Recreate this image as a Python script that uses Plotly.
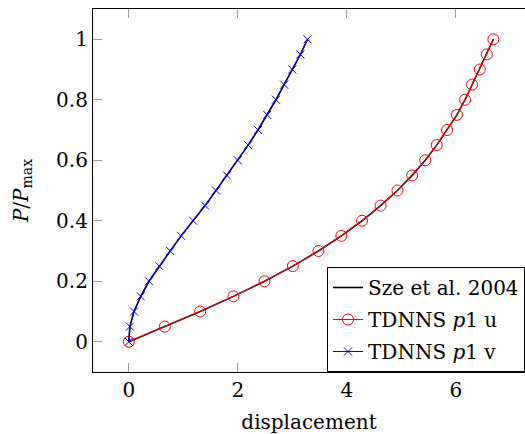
import plotly.graph_objects as go

# Data
load = [0.0, 0.05, 0.1, 0.15, 0.2, 0.25, 0.3, 0.35, 0.4, 0.45, 0.5,
        0.55, 0.6, 0.65, 0.7, 0.75, 0.8, 0.85, 0.9, 0.95, 1.0]
disp_u = [0.0, 0.66, 1.31, 1.92, 2.49, 3.01, 3.48, 3.90, 4.28, 4.62, 4.93,
          5.20, 5.44, 5.65, 5.84, 6.02, 6.17, 6.30, 6.44, 6.57, 6.69]
disp_v = [0.0, 0.02, 0.095, 0.22, 0.37, 0.56, 0.76, 0.96, 1.18, 1.40, 1.60,
          1.80, 2.00, 2.19, 2.37, 2.54, 2.70, 2.85, 3.00, 3.15, 3.28]
x_ticks = [0, 2, 4, 6]
y_ticks = [0, 0.2, 0.4, 0.6, 0.8, 1]
y_ticklabels = ["0", "0.2", "0.4", "0.6", "0.8", "1"]

FONT = "DejaVu Serif"
FS = 20

fig = go.Figure()
# Reference solution (black) along both branches
fig.add_trace(go.Scatter(
    x=disp_u + [None] + disp_v, y=load + [None] + load,
    mode="lines", line=dict(color="black", width=1.6),
    name="Sze et al. 2004", connectgaps=False, legendgroup="a"))
fig.add_trace(go.Scatter(
    x=disp_u, y=load, mode="lines+markers",
    line=dict(color="red", width=1),
    marker=dict(symbol="circle-open", size=11, color="red", line=dict(width=1)),
    name="TDNNS <i>p</i>1 u", legendgroup="b"))
fig.add_trace(go.Scatter(
    x=disp_v, y=load, mode="lines+markers",
    line=dict(color="blue", width=1),
    marker=dict(symbol="x-thin-open", size=8, color="blue", line=dict(width=1, color="blue")),
    name="TDNNS <i>p</i>1 v", legendgroup="c"))

fig.update_layout(
    width=525, height=434,
    margin=dict(l=93, r=0, t=9, b=62),
    paper_bgcolor="white", plot_bgcolor="white",
    font=dict(family=FONT, size=FS, color="black"),
    showlegend=True,
    legend=dict(x=1, y=0, xanchor="right", yanchor="bottom",
                bordercolor="black", borderwidth=1, bgcolor="white",
                font=dict(family=FONT, size=FS), tracegroupgap=3,
                itemwidth=30, entrywidth=165, entrywidthmode="pixels"),
    xaxis=dict(range=[-0.657, 7.27], tickvals=x_ticks, ticks="inside", ticklen=9,
               tickcolor="#9a9a9a", tickwidth=1, showline=True, linecolor="black",
               linewidth=1.2, mirror="ticks", showgrid=False, zeroline=False,
               title=dict(text="displacement", font=dict(family=FONT, size=FS), standoff=17),
               tickfont=dict(family=FONT, size=FS)),
    yaxis=dict(range=[-0.1, 1.1], tickvals=y_ticks, ticktext=y_ticklabels,
               ticks="inside", ticklen=9, tickcolor="#9a9a9a", tickwidth=1,
               showline=True, linecolor="black", linewidth=1.2, mirror=False,
               showgrid=False, zeroline=False,
               title=dict(text="<i>P</i>/<i>P</i><sub>max</sub>",
                          font=dict(family=FONT, size=FS), standoff=22),
               tickfont=dict(family=FONT, size=FS)),
    yaxis2=dict(range=[-0.1, 1.1], tickvals=y_ticks, overlaying="y", side="right",
                ticks="inside", ticklen=9, tickcolor="#9a9a9a", tickwidth=1,
                showline=False, showgrid=False, zeroline=False, showticklabels=False),
)

fig.write_html("out.html")
